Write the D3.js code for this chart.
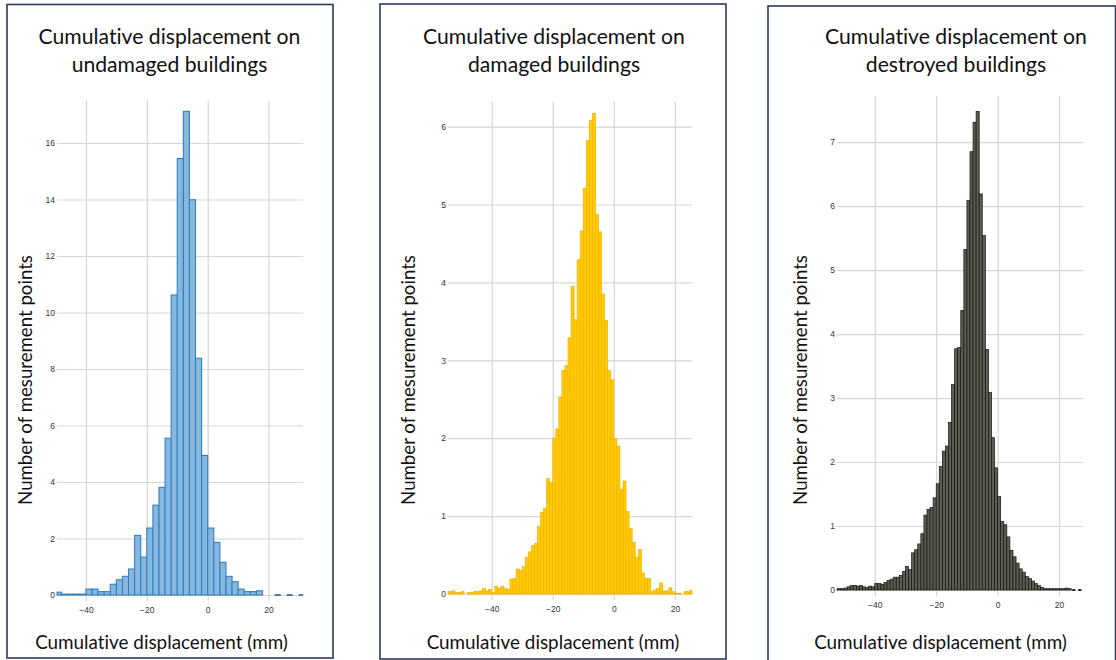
<!DOCTYPE html>
<html><head><meta charset="utf-8">
<script src="https://cdn.jsdelivr.net/npm/d3@7"></script>
<style>body{margin:0;background:#fff} svg{display:block} text{font-variant-ligatures:none;font-feature-settings:"liga" 0,"clig" 0}</style>
</head><body><svg id="c" width="1116" height="660"></svg>
<script>
// ---------- DATA ----------
const xTickValues = [-40, -20, 0, 20];

const undamagedBinStart = -50;
const undamagedBinWidth = 2;
const undamagedCounts = [0.10, 0.03, 0.03, 0.03, 0.03, 0.21, 0.21, 0.12, 0.12, 0.38, 0.54, 0.66, 0.92,
  2.11, 1.34, 2.37, 3.18, 3.81, 5.55, 10.62, 15.45, 17.12, 13.99, 8.38, 4.94, 2.37, 1.86, 1.16,
  0.66, 0.47, 0.21, 0.12, 0.12, 0.15];
const undamagedYTicks = [0, 2, 4, 6, 8, 10, 12, 14, 16];

const damagedBinStart = -55;
const damagedBinWidth = 1;
const damagedCounts = [0.03, 0.03, 0.04, 0.02, 0.02, 0.03, 0, 0.02, 0.02, 0.03, 0.03, 0.04, 0.07, 0.04,
  0.06, 0.02, 0.10, 0.07, 0.10, 0.07, 0.06, 0.19, 0.20, 0.32, 0.30, 0.35, 0.47, 0.54, 0.62, 0.65,
  0.87, 1.05, 1.10, 1.48, 1.43, 2.00, 2.12, 2.53, 2.87, 2.93, 3.29, 3.95, 3.52, 4.29, 4.66, 5.21,
  5.82, 6.08, 6.17, 4.87, 4.65, 3.85, 3.51, 2.87, 2.75, 1.99, 1.90, 1.34, 1.45, 1.06, 0.84, 0.66,
  0.47, 0.57, 0.27, 0.20, 0.20, 0.03, 0.05, 0.07, 0.14, 0.04, 0.04, 0.08, 0.03, 0.01, 0.01, 0,
  0.03, 0.03, 0.05];
const damagedYTicks = [0, 1, 2, 3, 4, 5, 6];

const destroyedBinStart = -53;
const destroyedBinWidth = 1;
const destroyedCounts = [0.02, 0.02, 0.02, 0.03, 0.05, 0.07, 0.07, 0.06, 0.07, 0.05, 0.04, 0.06, 0.05,
  0.10, 0.10, 0.09, 0.12, 0.15, 0.17, 0.20, 0.20, 0.23, 0.29, 0.37, 0.32, 0.58, 0.63, 0.72, 0.88,
  1.17, 1.26, 1.29, 1.44, 1.66, 1.93, 2.17, 2.25, 2.62, 3.21, 3.77, 3.79, 4.37, 5.32, 6.09, 6.85,
  7.31, 7.48, 6.19, 5.54, 3.76, 3.09, 2.38, 1.91, 1.46, 1.07, 1.02, 0.83, 0.62, 0.52, 0.42, 0.33,
  0.28, 0.21, 0.18, 0.14, 0.10, 0.07, 0.04, 0.02, 0.02, 0.02, 0.02, 0.02, 0.02, 0.02, 0.03, 0.02];
const destroyedYTicks = [0, 1, 2, 3, 4, 5, 6, 7];

const titles = [
  ["Cumulative displacement on", "undamaged buildings"],
  ["Cumulative displacement on", "damaged buildings"],
  ["Cumulative displacement on", "destroyed buildings"]
];
const xAxisTitle = "Cumulative displacement (mm)";
const yAxisTitle = "Number of mesurement points";

// ---------- LAYOUT / STYLE ----------
const panels = [
  { title: titles[0], start: undamagedBinStart, width: undamagedBinWidth, values: undamagedCounts,
    yTicks: undamagedYTicks, frame: [7, 4.5, 333, 658], px: [57, 303], base: 595, top: 100.6,
    xDomain: [-49.5, 31.3], yDomain: [0, 17.5], cx: 169.5, xtx: 161.5, ytx: 32,
    fill: "#86b7de", stroke: "#3580c1", sw: 1.1, dashFrom: 22, dash: "6,6", dashColor: "#3580c1", dashW: 1.8 },
  { title: titles[1], start: damagedBinStart, width: damagedBinWidth, values: damagedCounts,
    yTicks: damagedYTicks, frame: [380, 4, 726, 659], px: [448, 692], base: 594, top: 101.7,
    xDomain: [-54.3, 25.6], yDomain: [0, 6.32], cx: 554, xtx: 553, ytx: 415,
    fill: "#ffcb05", stroke: "#f2b100", sw: 0.7, dashFrom: null },
  { title: titles[2], start: destroyedBinStart, width: destroyedBinWidth, values: destroyedCounts,
    yTicks: destroyedYTicks, frame: [768, 6, 1115.5, 663], px: [837, 1083], base: 590, top: 96,
    xDomain: [-52.3, 27.8], yDomain: [0, 7.72], cx: 956, xtx: 940.5, ytx: 807,
    fill: "#5d5c50", stroke: "#151512", sw: 0.7, dashFrom: 24.3, dash: "3,3", dashColor: "#222", dashW: 2 }
];

const svg = d3.select("#c");
const titleFont = "Lato, 'Open Sans', 'Noto Sans', sans-serif";
const tickFont = "'Liberation Sans', Arial, sans-serif";

function fitText(sel, target) {
  const fs = parseFloat(sel.attr("font-size"));
  const w = sel.node().getComputedTextLength();
  if (w > 0) sel.attr("font-size", fs * target / w);
}

panels.forEach(p => {
  const g = svg.append("g");
  const x = d3.scaleLinear().domain(p.xDomain).range(p.px);
  const y = d3.scaleLinear().domain(p.yDomain).range([p.base, p.top]);

  // horizontal grid + y tick labels
  const gy = g.append("g").attr("transform", `translate(${p.px[0]},0)`)
    .call(d3.axisLeft(y).tickValues(p.yTicks).tickSize(-(p.px[1] - p.px[0])).tickPadding(2).tickFormat(d3.format("d")));
  gy.select(".domain").remove();
  gy.selectAll("line").attr("stroke", "#d5d5d5").attr("stroke-width", 1.2);
  gy.selectAll("text").attr("font-family", tickFont).attr("font-size", 8.5).attr("fill", "#333");

  // vertical grid + x tick labels
  const gx = g.append("g").attr("transform", `translate(0,${p.base + 6})`)
    .call(d3.axisBottom(x).tickValues(xTickValues).tickSize(-(p.base + 6 - p.top)).tickPadding(5.5)
      .tickFormat(d => d < 0 ? "\u2212" + Math.abs(d) : String(d)));
  gx.select(".domain").remove();
  gx.selectAll("line").attr("stroke", "#d5d5d5").attr("stroke-width", 1.2);
  gx.selectAll("text").attr("font-family", tickFont).attr("font-size", 8.5).attr("fill", "#333");

  // bars
  const bins = p.values.map((v, i) => ({ x0: p.start + i * p.width, x1: p.start + (i + 1) * p.width, v }))
    .filter(d => d.v > 0);
  g.append("g").selectAll("rect").data(bins).join("rect")
    .attr("x", d => Math.max(x(d.x0), p.px[0]))
    .attr("width", d => Math.min(x(d.x1), p.px[1]) - Math.max(x(d.x0), p.px[0]))
    .attr("y", d => y(d.v))
    .attr("height", d => p.base - y(d.v))
    .attr("fill", p.fill).attr("stroke", p.stroke).attr("stroke-width", p.sw);

  if (p.dashFrom !== null) {
    g.append("line").attr("x1", x(p.dashFrom)).attr("x2", p.px[1])
      .attr("y1", p.base).attr("y2", p.base)
      .attr("stroke", p.dashColor).attr("stroke-width", p.dashW).attr("stroke-dasharray", p.dash);
  }

  // frame
  g.append("rect").attr("x", p.frame[0]).attr("y", p.frame[1])
    .attr("width", p.frame[2] - p.frame[0]).attr("height", p.frame[3] - p.frame[1])
    .attr("fill", "none").attr("stroke", "#2b3a5c").attr("stroke-width", 1.6);

  // titles
  const t1 = g.append("text").attr("x", p.cx).attr("y", 44).attr("text-anchor", "middle")
    .attr("font-family", titleFont).attr("font-size", 21).attr("fill", "#111").text(p.title[0]);
  fitText(t1, 262);
  g.append("text").attr("x", p.cx).attr("y", 72).attr("text-anchor", "middle")
    .attr("font-family", titleFont).attr("font-size", t1.attr("font-size")).attr("fill", "#111").text(p.title[1]);

  // x-axis title
  const xt = g.append("text").attr("x", p.xtx).attr("y", 649).attr("text-anchor", "middle")
    .attr("font-family", titleFont).attr("font-size", 18).attr("fill", "#111").text(xAxisTitle);
  fitText(xt, 253);

  // y-axis title
  const yt = g.append("text").attr("transform", `translate(${p.ytx},380) rotate(-90)`)
    .attr("text-anchor", "middle")
    .attr("font-family", titleFont).attr("font-size", 18).attr("fill", "#111").text(yAxisTitle);
  fitText(yt, 250);
});
</script>
</body></html>
